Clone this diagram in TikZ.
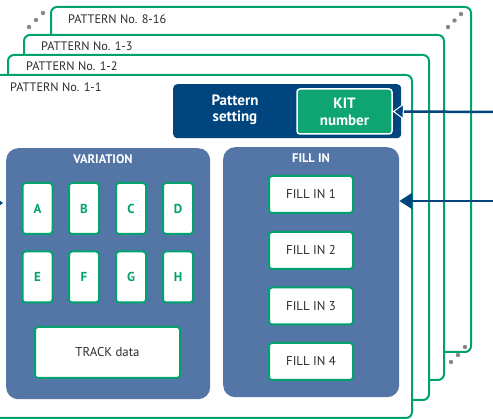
\documentclass[tikz,border=0pt]{standalone}
\usepackage{fontspec}
\setmainfont{PT Sans}
\usetikzlibrary{arrows.meta}
\definecolor{frameg}{RGB}{0,163,110}
\definecolor{kitg}{RGB}{14,165,115}
\definecolor{dblue}{RGB}{0,69,125}
\definecolor{pblue}{RGB}{84,118,166}
\definecolor{txt}{RGB}{45,45,45}
\definecolor{dotg}{RGB}{135,135,135}
\tikzset{
  frame/.style={draw=frameg, line width=2pt, fill=white, rounded corners=6pt,
    inner sep=0pt, anchor=north west},
  flabel/.style={anchor=west, text=txt, font=\fontsize{12.3}{14}\selectfont, inner sep=0pt},
  setbox/.style={fill=dblue, rounded corners=4pt, inner sep=0pt, anchor=north west},
  kitbox/.style={fill=kitg, draw=white, line width=1.5pt, rounded corners=3pt,
    minimum width=95pt, minimum height=45pt, inner sep=0pt, align=center,
    text=white, font=\bfseries\fontsize{15}{17}\selectfont},
  panel/.style={fill=pblue, rounded corners=12pt, inner sep=0pt, anchor=north west},
  ptitle/.style={text=white, font=\bfseries\fontsize{12.5}{14}\selectfont, inner sep=0pt},
  letter/.style={fill=white, draw=frameg, line width=2pt, rounded corners=3pt,
    minimum width=30pt, minimum height=51pt, inner sep=0pt,
    text=frameg, font=\bfseries\fontsize{13}{15}\selectfont},
  wbox/.style={fill=white, draw=frameg, line width=2pt, rounded corners=3pt,
    inner sep=0pt, text=txt, font=\fontsize{12.8}{15}\selectfont},
  dot/.style={fill=dotg, draw=none},
  feed/.style={draw=dblue, line width=2.5pt},
}
\begin{document}
\begin{tikzpicture}[x=1pt, y=-1pt]
\useasboundingbox (0,0) rectangle (493,419);
\clip (0,0) rectangle (493,419);

% stacked pattern sheets, back to front
\node[frame, minimum width=420pt, minimum height=345pt] (f4) at (50,6) {};
\node[flabel] (l4) at (68,19) {PATTERN No. 8-16};
\node[frame, minimum width=420pt, minimum height=345pt] (f3) at (23,34) {};
\node[flabel] (l3) at (41,46) {PATTERN No. 1-3};
\node[frame, minimum width=421pt, minimum height=345pt] (f2) at (7,54) {};
\node[flabel] (l2) at (26,66) {PATTERN No. 1-2};
\node[frame, minimum width=421pt, minimum height=343pt] (f1) at (-10,74) {};
\node[flabel] (l1) at (10,87) {PATTERN No. 1-1};

% ellipsis dots between sheets
\foreach \p in {(29,27),(36,20),(43,13),(448,27),(454.5,20.5),(461,14),(465,347),(458,355),(451,362)}
  \fill[dot] \p circle (2.2pt);

% pattern setting block
\node[setbox, minimum width=228pt, minimum height=54pt] (ps) at (173,84) {};
\node[text=white, align=center, font=\bfseries\fontsize{15}{16.5}\selectfont] (pst) at (235,110) {Pattern\\setting};
\node[kitbox] (kit) at (344.5,111.5) {KIT\\number};

% variation panel
\node[panel, minimum width=204pt, minimum height=251pt] (var) at (6,148) {};
\node[ptitle] (vart) at (103,159.5) {VARIATION};
\node[letter] (A) at (37.5,208.5) {A};
\node[letter] (B) at (84,208.5) {B};
\node[letter] (C) at (131,208.5) {C};
\node[letter] (D) at (178,208.5) {D};
\node[letter] (E) at (37.5,277) {E};
\node[letter] (F) at (84,277) {F};
\node[letter] (G) at (131,277) {G};
\node[letter] (H) at (178,277) {H};
\node[wbox, minimum width=145pt, minimum height=51pt] (track) at (107.5,352.5) {TRACK data};

% fill-in panel
\node[panel, minimum width=176pt, minimum height=250pt] (fill) at (223,147) {};
\node[ptitle] (fillt) at (311,158.5) {FILL IN};
\node[wbox, minimum width=84pt, minimum height=37pt] (fi1) at (311,194.5) {FILL IN 1};
\node[wbox, minimum width=84pt, minimum height=37pt] (fi2) at (311,250.5) {FILL IN 2};
\node[wbox, minimum width=84pt, minimum height=37pt] (fi3) at (311,306) {FILL IN 3};
\node[wbox, minimum width=84pt, minimum height=37pt] (fi4) at (311,361.5) {FILL IN 4};

% incoming connectors
\coordinate (in1) at (500,112);
\coordinate (in2) at (500,201);
\coordinate (in0) at (-20,203);
\coordinate (in0e) at (3,203);
\draw[feed, -{Triangle[length=11pt, width=16pt, fill=dblue, color=white, line width=1pt]}] (in1) -- (kit.east);
\draw[feed, -{Triangle[length=13pt, width=16pt]}] (in2) -- (fill.east |- in2);
\draw[draw=dblue, line width=1pt, -{Triangle[length=3pt, width=4pt]}] (in0) -- (in0e);
\end{tikzpicture}
\end{document}
